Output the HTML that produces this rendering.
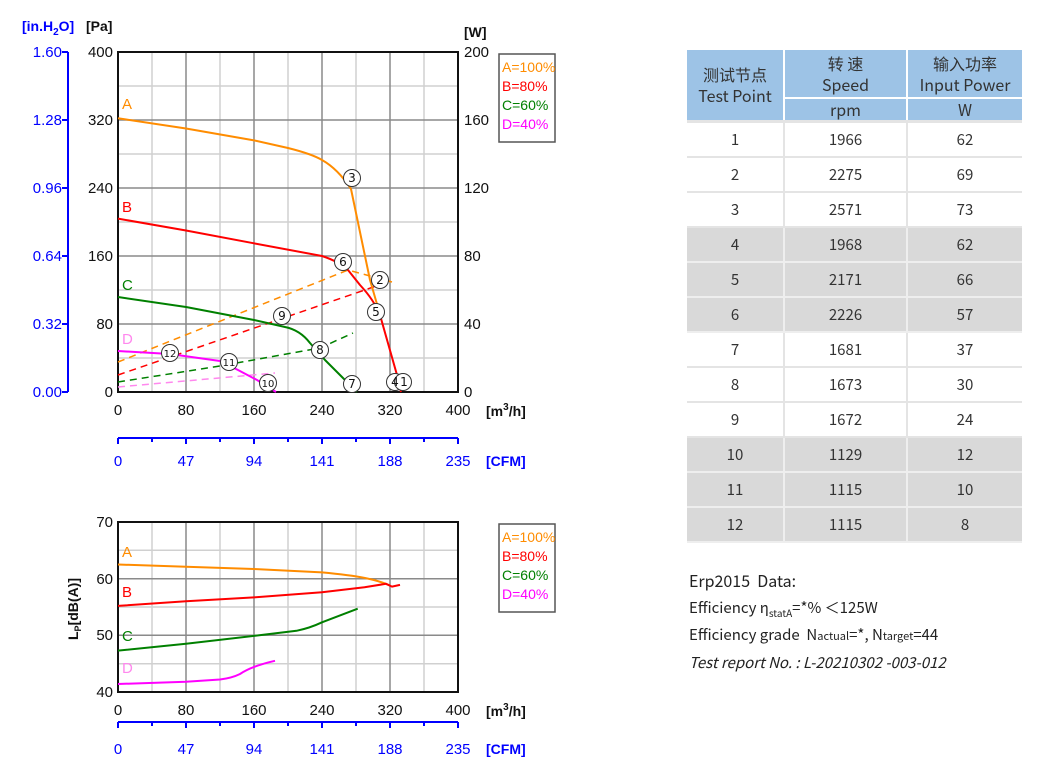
<!DOCTYPE html>
<html><head><meta charset="utf-8"><style>
body{margin:0;background:#fff;width:1050px;height:780px;overflow:hidden;position:relative;font-family:"Liberation Sans","Noto Sans CJK SC",sans-serif}
.c{position:absolute;text-align:center;color:#333;font-size:15px;font-family:"Noto Sans CJK SC",sans-serif}
.h{background:#9dc3e6}
.t{position:absolute;left:689px;color:#222;font-size:15px;font-family:"Noto Sans CJK SC","DejaVu Sans",sans-serif}
.tb{font-family:"Noto Sans CJK SC",sans-serif}
</style></head><body>
<svg width="1050" height="780" style="position:absolute;left:0;top:0" font-family="Liberation Sans, sans-serif">
<g stroke="#d0d0d0" stroke-width="1.5">
<line x1="152" y1="52" x2="152" y2="392"/><line x1="220" y1="52" x2="220" y2="392"/><line x1="288" y1="52" x2="288" y2="392"/><line x1="356" y1="52" x2="356" y2="392"/><line x1="424" y1="52" x2="424" y2="392"/>
<line x1="118" y1="358" x2="458" y2="358"/><line x1="118" y1="290" x2="458" y2="290"/><line x1="118" y1="222" x2="458" y2="222"/><line x1="118" y1="154" x2="458" y2="154"/><line x1="118" y1="86" x2="458" y2="86"/>
</g>
<g stroke="#8a8a8a" stroke-width="1.5">
<line x1="186" y1="52" x2="186" y2="392"/><line x1="254" y1="52" x2="254" y2="392"/><line x1="322" y1="52" x2="322" y2="392"/><line x1="390" y1="52" x2="390" y2="392"/>
<line x1="118" y1="324" x2="458" y2="324"/><line x1="118" y1="256" x2="458" y2="256"/><line x1="118" y1="188" x2="458" y2="188"/><line x1="118" y1="120" x2="458" y2="120"/>
</g>
<rect x="118" y="52" width="340" height="340" fill="none" stroke="#111" stroke-width="2"/>
<line x1="68" y1="52" x2="68" y2="392" stroke="#0000ff" stroke-width="2"/>
<g stroke="#0000ff" stroke-width="2"><line x1="62" y1="52" x2="68" y2="52"/><line x1="62" y1="120" x2="68" y2="120"/><line x1="62" y1="188" x2="68" y2="188"/><line x1="62" y1="256" x2="68" y2="256"/><line x1="62" y1="324" x2="68" y2="324"/><line x1="62" y1="392" x2="68" y2="392"/></g>
<g fill="#0000ff" font-size="15" text-anchor="end"><text x="62" y="57">1.60</text><text x="62" y="125">1.28</text><text x="62" y="193">0.96</text><text x="62" y="261">0.64</text><text x="62" y="329">0.32</text><text x="62" y="397">0.00</text></g>
<text x="22" y="31" fill="#0000ff" font-size="14" font-weight="bold">[in.H<tspan font-size="10" dy="4">2</tspan><tspan dy="-4">O]</tspan></text>
<text x="86" y="31" fill="#111" font-size="14" font-weight="bold">[Pa]</text>
<text x="464" y="37" fill="#111" font-size="14" font-weight="bold">[W]</text>
<g fill="#111" font-size="15" text-anchor="end"><text x="113" y="57">400</text><text x="113" y="125">320</text><text x="113" y="193">240</text><text x="113" y="261">160</text><text x="113" y="329">80</text><text x="113" y="397">0</text></g>
<g fill="#111" font-size="15"><text x="464" y="57">200</text><text x="464" y="125">160</text><text x="464" y="193">120</text><text x="464" y="261">80</text><text x="464" y="329">40</text><text x="464" y="397">0</text></g>
<g fill="#111" font-size="15" text-anchor="middle"><text x="118" y="415">0</text><text x="186" y="415">80</text><text x="254" y="415">160</text><text x="322" y="415">240</text><text x="390" y="415">320</text><text x="458" y="415">400</text></g>
<text x="486" y="416" fill="#111" font-size="14" font-weight="bold">[m<tspan font-size="10" dy="-6">3</tspan><tspan dy="6">/h]</tspan></text>
<line x1="118" y1="438" x2="458" y2="438" stroke="#0000ff" stroke-width="2"/>
<g stroke="#0000ff" stroke-width="2"><line x1="118" y1="438" x2="118" y2="444"/><line x1="152" y1="438" x2="152" y2="442"/><line x1="186" y1="438" x2="186" y2="444"/><line x1="220" y1="438" x2="220" y2="442"/><line x1="254" y1="438" x2="254" y2="444"/><line x1="288" y1="438" x2="288" y2="442"/><line x1="322" y1="438" x2="322" y2="444"/><line x1="356" y1="438" x2="356" y2="442"/><line x1="390" y1="438" x2="390" y2="444"/><line x1="424" y1="438" x2="424" y2="442"/><line x1="458" y1="438" x2="458" y2="444"/></g>
<g fill="#0000ff" font-size="15" text-anchor="middle"><text x="118" y="466">0</text><text x="186" y="466">47</text><text x="254" y="466">94</text><text x="322" y="466">141</text><text x="390" y="466">188</text><text x="458" y="466">235</text></g>
<text x="486" y="466" fill="#0000ff" font-size="14" font-weight="bold">[CFM]</text>
<g fill="none" stroke-width="1.5" stroke-dasharray="7,5">
<polyline points="118,362 348,270 392,282" stroke="#ff8c00"/>
<polyline points="118,375 385,283" stroke="#ff0000"/>
<polyline points="118,382 220,366 320,348 353,333" stroke="#008000"/>
<polyline points="118,387 275,373" stroke="#ff88ee"/>
</g>
<g fill="none" stroke-width="2" stroke-linejoin="round">
<path stroke="#ff8c00" d="M118,118.3 L186,128.5 L254,140.4 L288,148 Q312,154 322,160 Q338,169 351,189 L370,280 L381,318"/>
<path stroke="#ff0000" d="M118,218.6 L186,230.5 L254,243.3 L322,256 Q340,262 348,270 L360,285 Q374,300 380,315 L397,375 L401,392"/>
<path stroke="#008000" d="M118,297 L186,307 L254,320 L285,327 Q300,330 310,343 L325,360 L343,378 L357,392"/>
<polyline stroke="#ff00ff" points="118,351 170,354 220,361 238,370 257,380 276,392"/>
</g>
<g text-anchor="middle" fill="#111" font-family="DejaVu Sans, sans-serif">
<g fill="#fff" stroke="#333" stroke-width="1">
<circle cx="352" cy="178" r="8.5"/><circle cx="380" cy="280" r="8.5"/><circle cx="343" cy="262" r="8.5"/><circle cx="376" cy="312" r="8.5"/><circle cx="282" cy="316" r="8.5"/><circle cx="320" cy="350" r="8.5"/><circle cx="170" cy="353" r="8.5"/><circle cx="229" cy="362" r="8.5"/><circle cx="268" cy="383" r="8.5"/><circle cx="352" cy="384" r="8.5"/><circle cx="395" cy="382" r="8.5"/><circle cx="403" cy="382" r="8.5"/>
</g>
<g font-size="12"><text x="352" y="182">3</text><text x="380" y="284">2</text><text x="343" y="266">6</text><text x="376" y="316">5</text><text x="282" y="320">9</text><text x="320" y="354">8</text><text x="170" y="357" font-size="10">12</text><text x="229" y="366" font-size="10">11</text><text x="268" y="387" font-size="10">10</text><text x="352" y="388">7</text><text x="395" y="386">4</text><text x="404" y="386">1</text></g>
</g>
<g font-size="15"><text x="122" y="109" fill="#ff8c00">A</text><text x="122" y="212" fill="#ff0000">B</text><text x="122" y="290" fill="#008000">C</text><text x="122" y="344" fill="#ff88ee">D</text></g>
<rect x="499" y="54" width="56" height="88" fill="#fff" stroke="#555" stroke-width="1.5"/>
<g font-size="14"><text x="502" y="72" fill="#ff8c00">A=100%</text><text x="502" y="91" fill="#ff0000">B=80%</text><text x="502" y="110" fill="#008000">C=60%</text><text x="502" y="129" fill="#ff00ff">D=40%</text></g>

<g stroke="#d0d0d0" stroke-width="1.5">
<line x1="152" y1="522" x2="152" y2="692"/><line x1="220" y1="522" x2="220" y2="692"/><line x1="288" y1="522" x2="288" y2="692"/><line x1="356" y1="522" x2="356" y2="692"/><line x1="424" y1="522" x2="424" y2="692"/>
<line x1="118" y1="663.7" x2="458" y2="663.7"/><line x1="118" y1="607" x2="458" y2="607"/><line x1="118" y1="550.3" x2="458" y2="550.3"/>
</g>
<g stroke="#8a8a8a" stroke-width="1.5">
<line x1="186" y1="522" x2="186" y2="692"/><line x1="254" y1="522" x2="254" y2="692"/><line x1="322" y1="522" x2="322" y2="692"/><line x1="390" y1="522" x2="390" y2="692"/>
<line x1="118" y1="635.3" x2="458" y2="635.3"/><line x1="118" y1="578.7" x2="458" y2="578.7"/>
</g>
<rect x="118" y="522" width="340" height="170" fill="none" stroke="#111" stroke-width="2"/>
<g fill="#111" font-size="15" text-anchor="end"><text x="113" y="527">70</text><text x="113" y="584">60</text><text x="113" y="640">50</text><text x="113" y="697">40</text></g>
<text transform="translate(78,640) rotate(-90)" fill="#111" font-size="14" font-weight="bold">L<tspan font-size="9" dy="3">P</tspan><tspan dy="-3">[dB(A)]</tspan></text>
<g fill="#111" font-size="15" text-anchor="middle"><text x="118" y="715">0</text><text x="186" y="715">80</text><text x="254" y="715">160</text><text x="322" y="715">240</text><text x="390" y="715">320</text><text x="458" y="715">400</text></g>
<text x="486" y="716" fill="#111" font-size="14" font-weight="bold">[m<tspan font-size="10" dy="-6">3</tspan><tspan dy="6">/h]</tspan></text>
<line x1="118" y1="722" x2="458" y2="722" stroke="#0000ff" stroke-width="2"/>
<g stroke="#0000ff" stroke-width="2"><line x1="118" y1="722" x2="118" y2="728"/><line x1="152" y1="722" x2="152" y2="726"/><line x1="186" y1="722" x2="186" y2="728"/><line x1="220" y1="722" x2="220" y2="726"/><line x1="254" y1="722" x2="254" y2="728"/><line x1="288" y1="722" x2="288" y2="726"/><line x1="322" y1="722" x2="322" y2="728"/><line x1="356" y1="722" x2="356" y2="726"/><line x1="390" y1="722" x2="390" y2="728"/><line x1="424" y1="722" x2="424" y2="726"/><line x1="458" y1="722" x2="458" y2="728"/></g>
<g fill="#0000ff" font-size="15" text-anchor="middle"><text x="118" y="754">0</text><text x="186" y="754">47</text><text x="254" y="754">94</text><text x="322" y="754">141</text><text x="390" y="754">188</text><text x="458" y="754">235</text></g>
<text x="486" y="754" fill="#0000ff" font-size="14" font-weight="bold">[CFM]</text>
<g fill="none" stroke-width="2" stroke-linejoin="round">
<path stroke="#ff8c00" d="M118,564.5 L186,566.8 L254,569 L322,572.4 Q350,575 365,578 Q380,581 390,585.5"/>
<polyline stroke="#ff0000" points="118,605.9 186,601.3 254,597.4 322,592.3 364.5,587.2 386,583.8 392,586.6 400,584.9"/>
<path stroke="#008000" d="M118,650.6 L186,643.8 L254,635.9 L296.5,630.8 Q310,628 322,622.3 L357.7,608.7"/>
<path stroke="#ff00ff" d="M118,684 L186,681.8 L220,679.5 Q232,678 240,674 Q252,666 275,660.8"/>
</g>
<g font-size="15"><text x="122" y="557" fill="#ff8c00">A</text><text x="122" y="597" fill="#ff0000">B</text><text x="122" y="641" fill="#008000">C</text><text x="122" y="673" fill="#ff88ee">D</text></g>
<rect x="499" y="524" width="56" height="88" fill="#fff" stroke="#555" stroke-width="1.5"/>
<g font-size="14"><text x="502" y="542" fill="#ff8c00">A=100%</text><text x="502" y="561" fill="#ff0000">B=80%</text><text x="502" y="580" fill="#008000">C=60%</text><text x="502" y="599" fill="#ff00ff">D=40%</text></g>
</svg>

<div class="c h" style="left:687px;top:50px;width:96px;height:70px;line-height:21px;padding-top:14px;box-sizing:border-box;font-size:16px">测试节点<br>Test Point</div>
<div class="c h" style="left:785px;top:50px;width:121px;height:47px;line-height:21px;padding-top:3px;box-sizing:border-box;font-size:16px">转 速<br>Speed</div>
<div class="c h" style="left:908px;top:50px;width:114px;height:47px;line-height:21px;padding-top:3px;box-sizing:border-box;font-size:16px">输入功率<br>Input Power</div>
<div class="c h" style="left:785px;top:99px;width:121px;height:21px;line-height:21px;font-size:16px">rpm</div>
<div class="c h" style="left:908px;top:99px;width:114px;height:21px;line-height:21px;font-size:16px">W</div>
<div style="position:absolute;left:687px;top:120px;width:335px;height:3px;background:#e4e4e4"></div>
<div class="tb" style="position:absolute;left:687px;top:123px;width:335px;font-size:15px;color:#333">
<div style="display:flex;height:33px;line-height:33px;border-bottom:2.6px solid #e4e4e4"><div style="width:96px;text-align:center">1</div><div style="width:2px;background:#e4e4e4"></div><div style="width:121px;text-align:center">1966</div><div style="width:2px;background:#e4e4e4"></div><div style="width:114px;text-align:center">62</div></div>
<div style="display:flex;height:33px;line-height:33px;border-bottom:2.6px solid #e4e4e4"><div style="width:96px;text-align:center">2</div><div style="width:2px;background:#e4e4e4"></div><div style="width:121px;text-align:center">2275</div><div style="width:2px;background:#e4e4e4"></div><div style="width:114px;text-align:center">69</div></div>
<div style="display:flex;height:33px;line-height:33px;border-bottom:2.6px solid #e4e4e4"><div style="width:96px;text-align:center">3</div><div style="width:2px;background:#e4e4e4"></div><div style="width:121px;text-align:center">2571</div><div style="width:2px;background:#e4e4e4"></div><div style="width:114px;text-align:center">73</div></div>
<div style="display:flex;height:33px;line-height:33px;border-bottom:2.6px solid #eee;background:#d9d9d9"><div style="width:96px;text-align:center">4</div><div style="width:2px;background:#eee"></div><div style="width:121px;text-align:center">1968</div><div style="width:2px;background:#eee"></div><div style="width:114px;text-align:center">62</div></div>
<div style="display:flex;height:33px;line-height:33px;border-bottom:2.6px solid #eee;background:#d9d9d9"><div style="width:96px;text-align:center">5</div><div style="width:2px;background:#eee"></div><div style="width:121px;text-align:center">2171</div><div style="width:2px;background:#eee"></div><div style="width:114px;text-align:center">66</div></div>
<div style="display:flex;height:33px;line-height:33px;border-bottom:2.6px solid #eee;background:#d9d9d9"><div style="width:96px;text-align:center">6</div><div style="width:2px;background:#eee"></div><div style="width:121px;text-align:center">2226</div><div style="width:2px;background:#eee"></div><div style="width:114px;text-align:center">57</div></div>
<div style="display:flex;height:33px;line-height:33px;border-bottom:2.6px solid #e4e4e4"><div style="width:96px;text-align:center">7</div><div style="width:2px;background:#e4e4e4"></div><div style="width:121px;text-align:center">1681</div><div style="width:2px;background:#e4e4e4"></div><div style="width:114px;text-align:center">37</div></div>
<div style="display:flex;height:33px;line-height:33px;border-bottom:2.6px solid #e4e4e4"><div style="width:96px;text-align:center">8</div><div style="width:2px;background:#e4e4e4"></div><div style="width:121px;text-align:center">1673</div><div style="width:2px;background:#e4e4e4"></div><div style="width:114px;text-align:center">30</div></div>
<div style="display:flex;height:33px;line-height:33px;border-bottom:2.6px solid #e4e4e4"><div style="width:96px;text-align:center">9</div><div style="width:2px;background:#e4e4e4"></div><div style="width:121px;text-align:center">1672</div><div style="width:2px;background:#e4e4e4"></div><div style="width:114px;text-align:center">24</div></div>
<div style="display:flex;height:33px;line-height:33px;border-bottom:2.6px solid #eee;background:#d9d9d9"><div style="width:96px;text-align:center">10</div><div style="width:2px;background:#eee"></div><div style="width:121px;text-align:center">1129</div><div style="width:2px;background:#eee"></div><div style="width:114px;text-align:center">12</div></div>
<div style="display:flex;height:33px;line-height:33px;border-bottom:2.6px solid #eee;background:#d9d9d9"><div style="width:96px;text-align:center">11</div><div style="width:2px;background:#eee"></div><div style="width:121px;text-align:center">1115</div><div style="width:2px;background:#eee"></div><div style="width:114px;text-align:center">10</div></div>
<div style="display:flex;height:33px;line-height:33px;border-bottom:2.6px solid #eee;background:#d9d9d9"><div style="width:96px;text-align:center">12</div><div style="width:2px;background:#eee"></div><div style="width:121px;text-align:center">1115</div><div style="width:2px;background:#eee"></div><div style="width:114px;text-align:center">8</div></div>
</div>

<div class="t" style="top:568px;font-size:16px">Erp2015&nbsp; Data:</div>
<div class="t" style="top:597px">Efficiency η<sub style="font-size:10px">statA</sub>=*% ＜125W</div>
<div class="t" style="top:624px">Efficiency grade&nbsp; N<span style="font-size:11px">actual</span>=*, N<span style="font-size:11px">target</span>=44</div>
<div class="t" style="top:652px;font-style:italic">Test report No. : L-20210302 -003-012</div>
</body></html>
